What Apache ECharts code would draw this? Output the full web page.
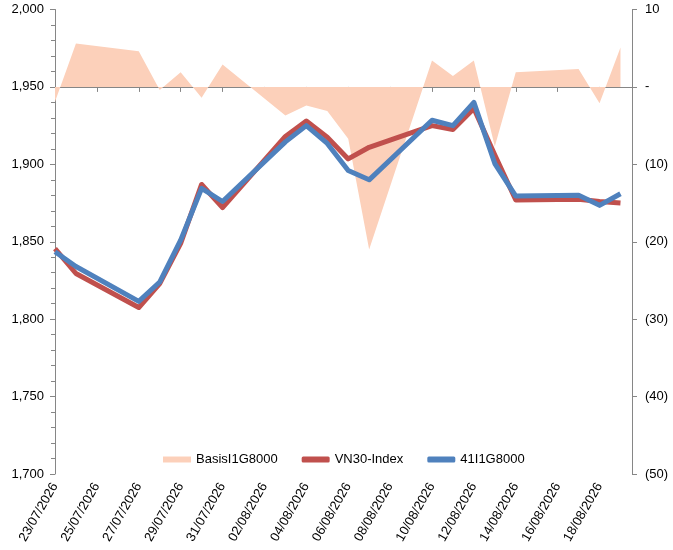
<!DOCTYPE html>
<html>
<head>
<meta charset="utf-8">
<title>Basis 41I1G8000</title>
<script src="https://cdn.jsdelivr.net/npm/echarts@6/dist/echarts.min.js"></script>
<style>
    html, body { margin: 0; padding: 0; background: #fff; }
    #chart { width: 673px; height: 550px; }
</style>
</head>
<body>
<div id="chart"></div>
<script>
    // trading days (dd/mm/yyyy)
    var dates = ['23/07/2026', '24/07/2026', '27/07/2026', '28/07/2026', '29/07/2026',
        '30/07/2026', '31/07/2026', '03/08/2026', '04/08/2026', '05/08/2026',
        '06/08/2026', '07/08/2026', '10/08/2026', '11/08/2026', '12/08/2026',
        '13/08/2026', '14/08/2026', '17/08/2026', '18/08/2026', '19/08/2026'];
    var basis = [-1.9, 5.6, 4.6, -0.4, 1.9, -1.4, 2.9, -3.7, -2.4, -3.1,
        -6.7, -21.0, 3.4, 1.4, 3.4, -7.7, 1.9, 2.3, -2.1, 5.1];
    var vn30 = [1845.5, 1829.5, 1807.5, 1823, 1849, 1887, 1872, 1918, 1928, 1917.5,
        1903.5, 1911, 1925, 1922.5, 1936, 1906, 1877, 1877.5, 1876, 1875];
    var f41 = [1843.5, 1834, 1811.5, 1824, 1851, 1884.5, 1876, 1914.5, 1925, 1913.5,
        1896, 1890, 1928.5, 1925, 1940, 1900.5, 1879.5, 1880, 1873.5, 1881];
    var names = ['BasisI1G8000', 'VN30-Index', '41I1G8000'];

    var DAY = 86400000;
    function toTime(s) {
        var p = s.split('/');
        return Date.UTC(+p[2], +p[1] - 1, +p[0]);
    }
    var t0 = toTime(dates[0]);
    function pad(n) { return (n < 10 ? '0' : '') + n; }
    function dayLabel(v) {
        var d = new Date(t0 + Math.round(v) * DAY);
        return pad(d.getUTCDate()) + '/' + pad(d.getUTCMonth() + 1) + '/' + d.getUTCFullYear();
    }
    function pairs(vals) {
        return dates.map(function (s, i) { return [(toTime(s) - t0) / DAY, vals[i]]; });
    }

    var font = 'Liberation Sans, Arial, sans-serif';
    var axisGray = '#868686';

    var chart = echarts.init(document.getElementById('chart'));
    chart.setOption({
        animation: false,
        textStyle: { fontFamily: font },
        grid: { left: 55, right: 41, top: 9.5, bottom: 76 },
        legend: {
            left: 158,
            top: 448,
            itemWidth: 28,
            itemHeight: 6,
            itemGap: 24,
            textStyle: { fontSize: 13, color: '#000', fontFamily: font },
            data: [
                { name: names[0], icon: 'rect' },
                { name: names[1], icon: 'roundRect' },
                { name: names[2], icon: 'roundRect' }
            ]
        },
        xAxis: {
            type: 'value',
            min: 0,
            max: 27.55,
            interval: 2,
            splitLine: { show: false },
            axisLine: { lineStyle: { color: axisGray } },
            axisTick: { show: true, length: 5, lineStyle: { color: axisGray } },
            axisLabel: {
                rotate: 60,
                margin: 10,
                fontSize: 13,
                color: '#000',
                showMaxLabel: false,
                formatter: dayLabel
            }
        },
        yAxis: [{
            type: 'value',
            min: 1700,
            max: 2000,
            interval: 50,
            splitLine: { show: false },
            axisLine: { show: true, lineStyle: { color: axisGray } },
            axisTick: { show: true, length: 5, lineStyle: { color: axisGray } },
            minorTick: { show: true, splitNumber: 5, length: 4, lineStyle: { color: axisGray } },
            axisLabel: {
                fontSize: 13,
                color: '#000',
                margin: 11,
                formatter: function (v) { return v.toLocaleString('en-US'); }
            }
        }, {
            type: 'value',
            min: -50,
            max: 10,
            interval: 10,
            position: 'right',
            splitLine: { show: false },
            axisLine: { show: true, lineStyle: { color: axisGray } },
            axisTick: { show: true, length: 5, lineStyle: { color: axisGray } },
            axisLabel: {
                fontSize: 13,
                color: '#000',
                margin: 13,
                formatter: function (v) {
                    if (v < 0) return '(' + (-v) + ')';
                    if (v === 0) return '-';
                    return v;
                }
            }
        }],
        series: [{
            name: names[0],
            type: 'line',
            yAxisIndex: 1,
            data: pairs(basis),
            symbol: 'none',
            itemStyle: { color: '#FCD0BA' },
            lineStyle: { width: 0 },
            areaStyle: { color: '#FCD0BA', opacity: 1, origin: 0 },
            z: 1
        }, {
            name: names[1],
            type: 'line',
            data: pairs(vn30),
            symbol: 'none',
            itemStyle: { color: '#C0504D' },
            lineStyle: { width: 5, color: '#C0504D', join: 'round' },
            z: 2
        }, {
            name: names[2],
            type: 'line',
            data: pairs(f41),
            symbol: 'none',
            itemStyle: { color: '#4F81BD' },
            lineStyle: { width: 5, color: '#4F81BD', join: 'round' },
            z: 3
        }]
    });
</script>
</body>
</html>
